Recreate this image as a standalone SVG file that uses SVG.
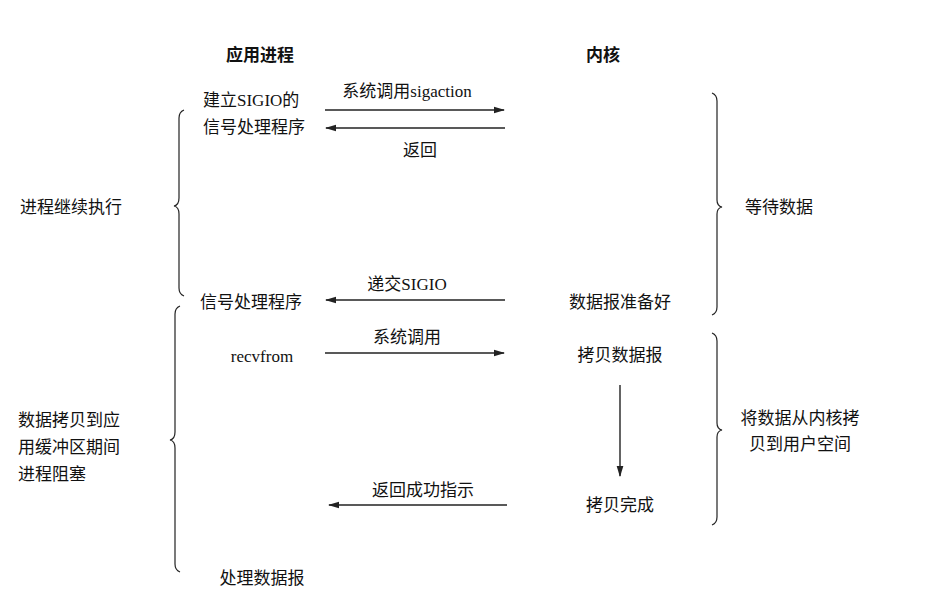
<svg xmlns="http://www.w3.org/2000/svg" width="936" height="602" viewBox="0 0 936 602">
<style>
text{font-family:"Liberation Serif","Noto Sans CJK SC",serif;font-size:17px;fill:#111}
.h{font-weight:bold}
.m{text-anchor:middle}
.ln{stroke:#222;stroke-width:1.4;fill:none}
.br{stroke:#222;stroke-width:1.2;fill:none}
</style>
<defs><marker id="a" viewBox="0 0 10 10" refX="9" refY="5" markerWidth="8" markerHeight="8" orient="auto"><path d="M0,2 L10,5 L0,8 Z" fill="#222"/></marker></defs>
<rect width="936" height="602" fill="#fff"/>
<g id="headers"><text class="h m" x="260" y="61">应用进程</text><text class="h m" x="603" y="61">内核</text></g>
<g id="app1"><text x="203" y="106">建立SIGIO的</text><text x="203" y="133">信号处理程序</text></g>
<g id="app2"><text x="200" y="308">信号处理程序</text></g>
<g id="app3"><text class="m" x="262" y="362">recvfrom</text></g>
<g id="app4"><text class="m" x="262" y="584">处理数据报</text></g>
<g id="k1"><text class="m" x="620" y="308">数据报准备好</text></g>
<g id="k2"><text class="m" x="620" y="361">拷贝数据报</text></g>
<g id="k3"><text class="m" x="620" y="511">拷贝完成</text></g>
<g id="left1"><text x="20" y="213">进程继续执行</text></g>
<g id="left2"><text x="18" y="426">数据拷贝到应</text><text x="18" y="453">用缓冲区期间</text><text x="18" y="480">进程阻塞</text></g>
<g id="right1"><text x="745" y="213">等待数据</text></g>
<g id="right2"><text class="m" x="800" y="424">将数据从内核拷</text><text class="m" x="800" y="450">贝到用户空间</text></g>
<g id="connectors">
<line class="ln" x1="325" y1="110" x2="504" y2="110" marker-end="url(#a)"/>
<text class="m" x="407" y="97">系统调用sigaction</text>
<line class="ln" x1="505" y1="128" x2="326" y2="128" marker-end="url(#a)"/>
<text class="m" x="420" y="156">返回</text>
<line class="ln" x1="505" y1="300" x2="326" y2="300" marker-end="url(#a)"/>
<text class="m" x="407" y="290">递交SIGIO</text>
<line class="ln" x1="325" y1="353" x2="504" y2="353" marker-end="url(#a)"/>
<text class="m" x="407" y="343">系统调用</text>
<line class="ln" x1="620" y1="385" x2="620" y2="476" marker-end="url(#a)"/>
<line class="ln" x1="507" y1="505" x2="329" y2="505" marker-end="url(#a)"/>
<text class="m" x="423" y="496">返回成功指示</text>
<path class="br" d="M184,110 Q179,112 179,118 L179,198 Q179,205 174,206 Q179,207 179,214 L179,288 Q179,294 184,296"/>
<path class="br" d="M180,306 Q175,308 175,314 L175,432 Q175,439 170,440 Q175,441 175,448 L175,564 Q175,570 180,572"/>
<path class="br" d="M712,93 Q717,95 717,101 L717,200 Q717,206 722,207 Q717,208 717,214 L717,307 Q717,313 712,315"/>
<path class="br" d="M712,333 Q717,335 717,341 L717,423 Q717,429 722,430 Q717,431 717,437 L717,517 Q717,523 712,525"/>
</g>
</svg>
